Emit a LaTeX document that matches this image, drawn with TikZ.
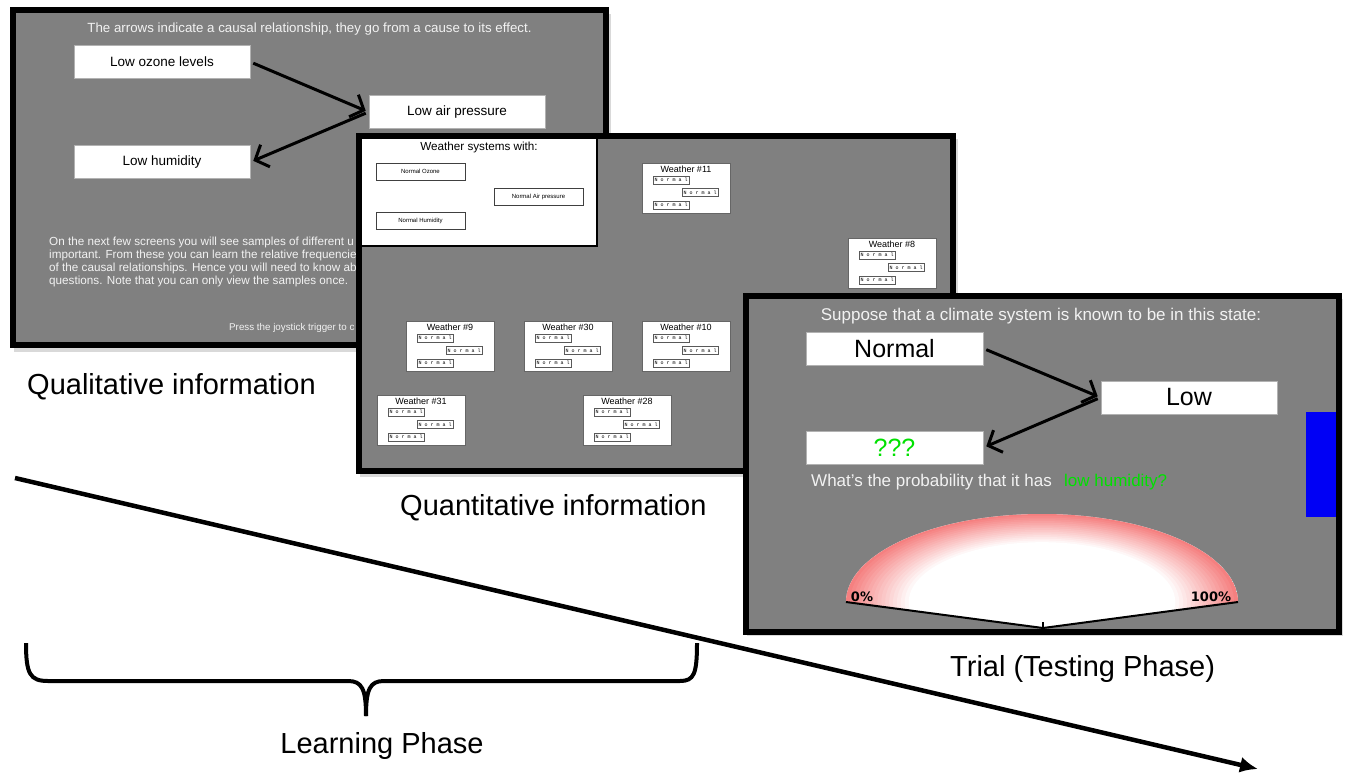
\documentclass[tikz,border=0pt]{standalone}
\usepackage{fontspec}
\setmainfont{Liberation Sans}
\newfontfamily\monof{Liberation Mono}
\newfontfamily\gaugef{DejaVu Sans}
\usetikzlibrary{arrows.meta}
\definecolor{pgray}{RGB}{128,128,128}
\definecolor{ptext}{RGB}{242,242,242}
\definecolor{qgreen}{RGB}{0,225,0}
\definecolor{gpink}{RGB}{245,128,128}
\definecolor{sblue}{RGB}{0,0,245}
\newcommand\fsz[1]{\fontsize{#1}{#1}\selectfont}
\tikzset{
  panel/.style={draw=black,line width=5.5pt,fill=pgray,inner sep=0pt},
  shadowbox/.style={fill=black!15,draw=none},
  wbox/.style={draw=gray!60,line width=1pt,fill=white,inner sep=0pt,text=black},
  ptxt/.style={text=ptext,inner sep=0pt},
  sbox/.style={draw=black!75,line width=1pt,fill=white,inner sep=0pt,minimum width=89pt,minimum height=17pt,font=\fsz{6}},
  card/.style={draw=black!60,line width=1pt,fill=white,inner sep=0pt},
  cardtitle/.style={inner sep=0pt,font=\fsz{9},text=black},
  mini/.style={draw=black!65,line width=0.8pt,fill=white,inner sep=0pt,minimum width=36pt,minimum height=8pt,font=\monof\fsz{5}},
  causal/.style={draw=black,line width=3pt,-{Straight Barb[length=11pt,width=24pt]},shorten <=3pt,shorten >=3pt},
  biglabel/.style={inner sep=0pt,font=\fsz{29},text=black},
  bracepath/.style={draw=black,line width=4pt,line join=round},
}
\newcommand\wcard[4]{%
  \node[card,minimum width=88pt,minimum height=50pt] (#1) at (#2+44,#3+25) {};
  \node[cardtitle] (#1t) at (#2+44,#3+6) {Weather \##4};
  \node[mini] (#1a) at (#2+29,#3+17) {N o r m a l};
  \node[mini] (#1b) at (#2+58,#3+29.5) {N o r m a l};
  \node[mini] (#1c) at (#2+29,#3+42) {N o r m a l};
}
\begin{document}
\begin{tikzpicture}[x=1pt,y=-1pt]
\useasboundingbox[fill=white] (0,0) rectangle (1347,772);

% ---------- panel 1 ----------
\fill[shadowbox] (14,14) rectangle (611,352);
\node[panel,minimum width=593pt,minimum height=335pt] (p1) at (309.5,177.5) {};
\node[ptxt,font=\fsz{13.3}] (p1title) at (309.5,29) {The arrows indicate a causal relationship, they go from a cause to its effect.};
\node[wbox,minimum width=176pt,minimum height=33pt,font=\fsz{13.5}] (oz) at (162,62) {Low ozone levels};
\node[wbox,minimum width=176pt,minimum height=33pt,font=\fsz{13.5}] (ap) at (457,112) {Low air pressure};
\node[wbox,minimum width=176pt,minimum height=33pt,font=\fsz{13.5}] (hu) at (162,162) {Low humidity};
\draw[causal] (oz.east) -- (ap.west);
\draw[causal] (ap.west) -- (hu.east);
\node[ptxt,font=\fsz{11.7},anchor=west] (l1) at (49,242) {On the next few screens you will see samples of different u};
\node[ptxt,font=\fsz{11.7},anchor=west] (l2) at (49,255) {important. From these you can learn the relative frequencie};
\node[ptxt,font=\fsz{11.7},anchor=west] (l3) at (49,268) {of the causal relationships. Hence you will need to know ab};
\node[ptxt,font=\fsz{11.7},anchor=west] (l4) at (49,281) {questions. Note that you can only view the samples once.};
\node[ptxt,font=\fsz{9.8},anchor=west] (press) at (229,328) {Press the joystick trigger to c};

% ---------- panel 2 ----------
\fill[shadowbox] (360,139) rectangle (958,477);
\node[panel,minimum width=594pt,minimum height=335pt] (p2) at (656,303.5) {};
\node[draw=black,line width=2pt,fill=white,inner sep=0pt,minimum width=236pt,minimum height=108pt] (wsys) at (479,192) {};
\node[inner sep=0pt,font=\fsz{11.7},text=black] (wsyst) at (479,147) {Weather systems with:};
\node[sbox] (so) at (420.5,171.5) {Normal Ozone};
\node[sbox] (sa) at (538.5,196.5) {Normal Air pressure};
\node[sbox] (sh) at (420.5,221) {Normal Humidity};
\wcard{w11}{642}{163}{11}
\wcard{w8}{848}{238}{8}
\wcard{w9}{406}{321}{9}
\wcard{w30}{524}{321}{30}
\wcard{w10}{642}{321}{10}
\wcard{w31}{377}{395}{31}
\wcard{w28}{583}{395}{28}

% ---------- panel 3 ----------
\fill[shadowbox] (747,299) rectangle (1343,636);
\node[panel,minimum width=593pt,minimum height=336pt] (p3) at (1042.5,464) {};
\node[ptxt,font=\fsz{17}] (p3title) at (1041,316) {Suppose that a climate system is known to be in this state:};
\node[wbox,minimum width=177pt,minimum height=33pt,font=\fsz{25}] (nm) at (894.5,348.5) {Normal};
\node[wbox,minimum width=176pt,minimum height=33pt,font=\fsz{25}] (lw) at (1189,397.5) {Low};
\node[wbox,minimum width=177pt,minimum height=33pt,font=\fsz{25},text=qgreen] (qq) at (894.5,447.5) {???};
\draw[causal] (nm.east) -- (lw.west);
\draw[causal] (lw.west) -- (qq.east);
\node[ptxt,font=\fsz{17},anchor=west] (q1) at (811,482) {What's the probability that it has};
\node[inner sep=0pt,font=\fsz{17},text=qgreen,anchor=west] (q2) at (1064,482) {low humidity?};
\node[fill=sblue,inner sep=0pt,minimum width=30pt,minimum height=105pt] (blue) at (1321,464) {};
% gauge
\begin{scope}
\clip (846,602) arc[start angle=180,end angle=0,x radius=196pt,y radius=88pt] -- (1043,628) -- cycle;
\fill[white] (840,500) rectangle (1245,632);
\foreach \i in {0,...,16}{
  \pgfmathsetmacro\pcol{100-\i*6.25}
  \pgfmathsetmacro\prx{196*(1-\i*0.02)}
  \pgfmathsetmacro\pry{88*(1-\i*0.02)}
  \fill[gpink!\pcol!white] (1042,602) ellipse[x radius=\prx pt,y radius=\pry pt];
}
\end{scope}
\coordinate (g0) at (846,602);
\coordinate (gc) at (1043,628);
\coordinate (g1) at (1238,602);
\coordinate (gt) at (1043,622);
\draw[line width=2pt,line join=round] (g0) -- (gc) -- (g1);
\draw[line width=1.5pt] (gt) -- (gc);
\node[inner sep=0pt,font=\gaugef\bfseries\fsz{13},text=black] (zero) at (862,597) {0\%};
\node[inner sep=0pt,font=\gaugef\bfseries\fsz{13},text=black] (hund) at (1211,597) {100\%};

% ---------- labels ----------
\node[biglabel,anchor=base west] (lqual) at (27,394) {Qualitative information};
\node[biglabel,anchor=base west] (lquan) at (400,515) {Quantitative information};
\node[biglabel,anchor=base west] (ltrial) at (950,676) {Trial (Testing Phase)};
\node[biglabel,anchor=base] (llearn) at (382,753) {Learning Phase};

% brace
\draw[bracepath] (26,643) .. controls (26,674) and (30,681) .. (48,681) -- (348,681) .. controls (362,681) and (366,689) .. (366,716);
\draw[bracepath] (366,716) .. controls (366,689) and (370,681) .. (384,681) -- (680,681) .. controls (694,681) and (697,674) .. (697,643);

% time arrow
\coordinate (ta) at (15,478);
\coordinate (tb) at (1258,769);
\draw[line width=4.5pt,-{Latex[length=18pt,width=16pt]}] (ta) -- (tb);
\end{tikzpicture}
\end{document}
